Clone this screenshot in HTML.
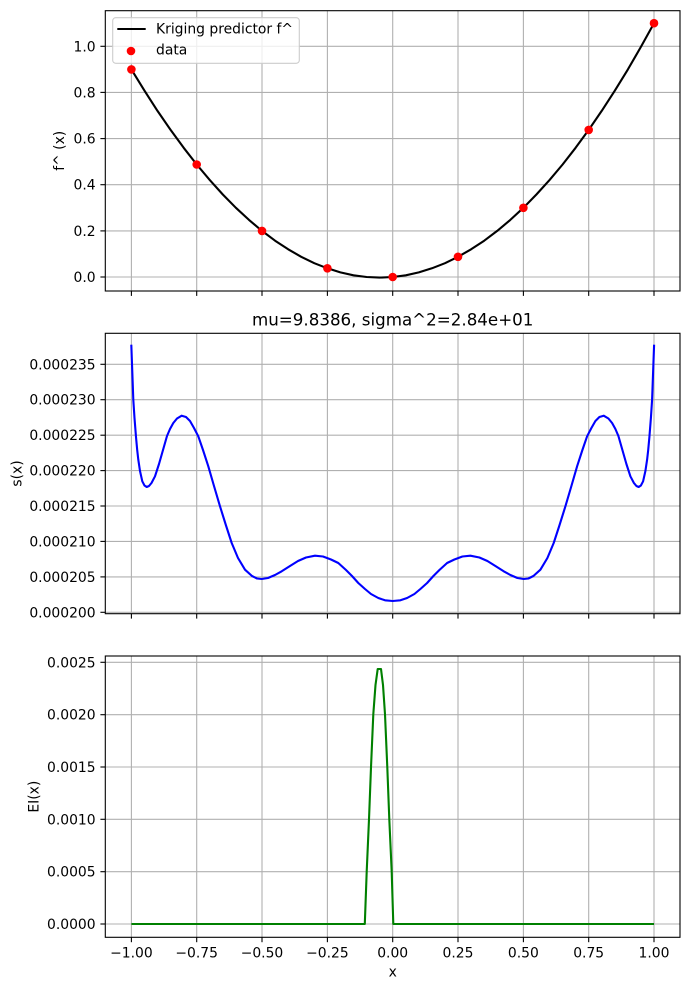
<!DOCTYPE html>
<html>
<head>
<meta charset="utf-8">
<style>
html,body{margin:0;padding:0;background:#fff;}
svg{display:block;}
text{font-family:"DejaVu Sans","Liberation Sans",sans-serif;fill:#000;}
</style>
</head>
<body>
<svg width="690" height="990" viewBox="0 0 690 990" xmlns="http://www.w3.org/2000/svg">
<rect width="690" height="990" fill="#fff"/>

<!-- ================= TOP AXES ================= -->
<g stroke="#b0b0b0" stroke-width="1.1" fill="none">
  <line x1="131.4" y1="10.7" x2="131.4" y2="291"/>
  <line x1="196.7" y1="10.7" x2="196.7" y2="291"/>
  <line x1="262.0" y1="10.7" x2="262.0" y2="291"/>
  <line x1="327.4" y1="10.7" x2="327.4" y2="291"/>
  <line x1="392.7" y1="10.7" x2="392.7" y2="291"/>
  <line x1="458.0" y1="10.7" x2="458.0" y2="291"/>
  <line x1="523.4" y1="10.7" x2="523.4" y2="291"/>
  <line x1="588.7" y1="10.7" x2="588.7" y2="291"/>
  <line x1="654.0" y1="10.7" x2="654.0" y2="291"/>
  <line x1="105.3" y1="277" x2="680" y2="277"/>
  <line x1="105.3" y1="230.9" x2="680" y2="230.9"/>
  <line x1="105.3" y1="184.7" x2="680" y2="184.7"/>
  <line x1="105.3" y1="138.6" x2="680" y2="138.6"/>
  <line x1="105.3" y1="92.4" x2="680" y2="92.4"/>
  <line x1="105.3" y1="46.3" x2="680" y2="46.3"/>
</g>
<polyline fill="none" stroke="#000" stroke-width="2.1" stroke-linejoin="round" points="131.4,69.4 144.5,90.7 157.5,110.9 170.6,129.9 183.7,147.8 196.7,164.5 209.8,180.1 222.8,194.5 235.9,207.8 249.0,219.9 262.0,230.9 275.1,240.7 288.2,249.3 301.2,256.8 314.3,263.2 327.4,268.3 340.4,272.4 353.5,275.3 366.6,277 379.6,277.6 392.7,277 405.8,275.3 418.8,272.4 431.9,268.3 445.0,263.2 458.0,256.8 471.1,249.3 484.2,240.7 497.2,230.9 510.3,219.9 523.4,207.8 536.4,194.5 549.5,180.1 562.6,164.5 575.6,147.8 588.7,129.9 601.7,110.9 614.8,90.7 627.9,69.4 640.9,46.9 654.0,23.2"/>
<g fill="#ff0000">
  <circle cx="131.4" cy="69.4" r="4.3"/>
  <circle cx="196.7" cy="164.5" r="4.3"/>
  <circle cx="262.0" cy="230.9" r="4.3"/>
  <circle cx="327.4" cy="268.3" r="4.3"/>
  <circle cx="392.7" cy="277" r="4.3"/>
  <circle cx="458.0" cy="256.8" r="4.3"/>
  <circle cx="523.4" cy="207.8" r="4.3"/>
  <circle cx="588.7" cy="129.9" r="4.3"/>
  <circle cx="654.0" cy="23.2" r="4.3"/>
</g>
<rect x="105.3" y="10.7" width="574.7" height="280.3" fill="none" stroke="#000" stroke-width="1.1"/>
<!-- ticks -->
<g stroke="#000" stroke-width="1.1">
  <line x1="100.4" y1="277" x2="105.3" y2="277"/>
  <line x1="100.4" y1="230.9" x2="105.3" y2="230.9"/>
  <line x1="100.4" y1="184.7" x2="105.3" y2="184.7"/>
  <line x1="100.4" y1="138.6" x2="105.3" y2="138.6"/>
  <line x1="100.4" y1="92.4" x2="105.3" y2="92.4"/>
  <line x1="100.4" y1="46.3" x2="105.3" y2="46.3"/>
  <line x1="131.4" y1="291" x2="131.4" y2="295.9"/>
  <line x1="196.7" y1="291" x2="196.7" y2="295.9"/>
  <line x1="262.0" y1="291" x2="262.0" y2="295.9"/>
  <line x1="327.4" y1="291" x2="327.4" y2="295.9"/>
  <line x1="392.7" y1="291" x2="392.7" y2="295.9"/>
  <line x1="458.0" y1="291" x2="458.0" y2="295.9"/>
  <line x1="523.4" y1="291" x2="523.4" y2="295.9"/>
  <line x1="588.7" y1="291" x2="588.7" y2="295.9"/>
  <line x1="654.0" y1="291" x2="654.0" y2="295.9"/>
</g>
<g font-size="13.9" text-anchor="end">
  <text x="95.6" y="282">0.0</text>
  <text x="95.6" y="235.9">0.2</text>
  <text x="95.6" y="189.7">0.4</text>
  <text x="95.6" y="143.6">0.6</text>
  <text x="95.6" y="97.4">0.8</text>
  <text x="95.6" y="51.3">1.0</text>
</g>
<text font-size="13.9" text-anchor="middle" transform="translate(64,150.8) rotate(-90)">f^ (x)</text>
<!-- legend -->
<rect x="112.7" y="17.7" width="186.6" height="45.6" rx="3" ry="3" fill="#fff" fill-opacity="0.8" stroke="#cccccc" stroke-width="1.1"/>
<line x1="117.3" y1="29" x2="145.7" y2="29" stroke="#000" stroke-width="2.1"/>
<text x="156" y="33.7" font-size="13.9">Kriging predictor f^</text>
<circle cx="131" cy="51" r="4.3" fill="#ff0000"/>
<text x="156" y="54.3" font-size="13.9">data</text>

<!-- ================= MIDDLE AXES ================= -->
<text x="392.7" y="325.7" font-size="16.7" text-anchor="middle">mu=9.8386, sigma^2=2.84e+01</text>
<g stroke="#b0b0b0" stroke-width="1.1" fill="none">
  <line x1="131.4" y1="333.3" x2="131.4" y2="613.7"/>
  <line x1="196.7" y1="333.3" x2="196.7" y2="613.7"/>
  <line x1="262.0" y1="333.3" x2="262.0" y2="613.7"/>
  <line x1="327.4" y1="333.3" x2="327.4" y2="613.7"/>
  <line x1="392.7" y1="333.3" x2="392.7" y2="613.7"/>
  <line x1="458.0" y1="333.3" x2="458.0" y2="613.7"/>
  <line x1="523.4" y1="333.3" x2="523.4" y2="613.7"/>
  <line x1="588.7" y1="333.3" x2="588.7" y2="613.7"/>
  <line x1="654.0" y1="333.3" x2="654.0" y2="613.7"/>
  <line x1="105.3" y1="612.3" x2="680" y2="612.3"/>
  <line x1="105.3" y1="576.9" x2="680" y2="576.9"/>
  <line x1="105.3" y1="541.4" x2="680" y2="541.4"/>
  <line x1="105.3" y1="506.0" x2="680" y2="506.0"/>
  <line x1="105.3" y1="470.6" x2="680" y2="470.6"/>
  <line x1="105.3" y1="435.2" x2="680" y2="435.2"/>
  <line x1="105.3" y1="399.7" x2="680" y2="399.7"/>
  <line x1="105.3" y1="364.3" x2="680" y2="364.3"/>
</g>
<polyline fill="none" stroke="#0000ff" stroke-width="2.1" stroke-linejoin="round" points="131.3,344.7 132.3,372 133.3,399.7 134.5,418 136,437 137.2,450 138.3,459.7 140,471 142.3,481.3 144.5,485.5 146.7,487 149,486 151.5,483 155,476.3 159,464 163,450 167,436 170,429 173.3,423 177,418.5 181.7,415.7 186,417 190,421 194,428 198.3,436.3 203,450 208.3,466.3 214,486 220,506.3 226,525.5 231.7,543 238,558 245,569.7 252,576 257,578.5 261.7,579 268,578 275,575 281.7,571.3 290,566 298,561 306,557.5 315,555.7 323,556.5 331,559.5 338.3,563 346,570 352,576 358.3,583 365,589 371,594 378.3,598 385,600.3 392.7,601 400.4,600.3 407.1,598 414.4,594 420.4,589 427.1,583 433.4,576 439.4,570 447.1,563 454.4,559.5 462.4,556.5 470.4,555.7 479.4,557.5 487.4,561 495.4,566 503.7,571.3 510.4,575 517.4,578 523.7,579 528.4,578.5 533.4,576 540.4,569.7 547.4,558 553.7,543 559.4,525.5 565.4,506.3 571.4,486 577.1,466.3 582.4,450 587.1,436.3 591.4,428 595.4,421 599.4,417 603.7,415.7 608.4,418.5 612.1,423 615.4,429 618.4,436 622.4,450 626.4,464 630.4,476.3 633.9,483 636.4,486 638.7,487 640.9,485.5 643.1,481.3 645.4,471 647.1,459.7 648.2,450 649.4,437 650.9,418 652.1,399.7 653.1,372 654.1,344.7"/>
<rect x="105.3" y="333.3" width="574.7" height="280.4" fill="none" stroke="#000" stroke-width="1.1"/>
<g stroke="#000" stroke-width="1.1">
  <line x1="100.4" y1="612.3" x2="105.3" y2="612.3"/>
  <line x1="100.4" y1="576.9" x2="105.3" y2="576.9"/>
  <line x1="100.4" y1="541.4" x2="105.3" y2="541.4"/>
  <line x1="100.4" y1="506.0" x2="105.3" y2="506.0"/>
  <line x1="100.4" y1="470.6" x2="105.3" y2="470.6"/>
  <line x1="100.4" y1="435.2" x2="105.3" y2="435.2"/>
  <line x1="100.4" y1="399.7" x2="105.3" y2="399.7"/>
  <line x1="100.4" y1="364.3" x2="105.3" y2="364.3"/>
  <line x1="131.4" y1="613.7" x2="131.4" y2="618.6"/>
  <line x1="196.7" y1="613.7" x2="196.7" y2="618.6"/>
  <line x1="262.0" y1="613.7" x2="262.0" y2="618.6"/>
  <line x1="327.4" y1="613.7" x2="327.4" y2="618.6"/>
  <line x1="392.7" y1="613.7" x2="392.7" y2="618.6"/>
  <line x1="458.0" y1="613.7" x2="458.0" y2="618.6"/>
  <line x1="523.4" y1="613.7" x2="523.4" y2="618.6"/>
  <line x1="588.7" y1="613.7" x2="588.7" y2="618.6"/>
  <line x1="654.0" y1="613.7" x2="654.0" y2="618.6"/>
</g>
<g font-size="13.9" text-anchor="end">
  <text x="95.6" y="617.3">0.000200</text>
  <text x="95.6" y="581.9">0.000205</text>
  <text x="95.6" y="546.4">0.000210</text>
  <text x="95.6" y="511.0">0.000215</text>
  <text x="95.6" y="475.6">0.000220</text>
  <text x="95.6" y="440.2">0.000225</text>
  <text x="95.6" y="404.7">0.000230</text>
  <text x="95.6" y="369.3">0.000235</text>
</g>
<text font-size="13.9" text-anchor="middle" transform="translate(21.5,473.5) rotate(-90)">s(x)</text>

<!-- ================= BOTTOM AXES ================= -->
<g stroke="#b0b0b0" stroke-width="1.1" fill="none">
  <line x1="131.4" y1="656" x2="131.4" y2="937.3"/>
  <line x1="196.7" y1="656" x2="196.7" y2="937.3"/>
  <line x1="262.0" y1="656" x2="262.0" y2="937.3"/>
  <line x1="327.4" y1="656" x2="327.4" y2="937.3"/>
  <line x1="392.7" y1="656" x2="392.7" y2="937.3"/>
  <line x1="458.0" y1="656" x2="458.0" y2="937.3"/>
  <line x1="523.4" y1="656" x2="523.4" y2="937.3"/>
  <line x1="588.7" y1="656" x2="588.7" y2="937.3"/>
  <line x1="654.0" y1="656" x2="654.0" y2="937.3"/>
  <line x1="105.3" y1="924" x2="680" y2="924"/>
  <line x1="105.3" y1="871.7" x2="680" y2="871.7"/>
  <line x1="105.3" y1="819.3" x2="680" y2="819.3"/>
  <line x1="105.3" y1="767.0" x2="680" y2="767.0"/>
  <line x1="105.3" y1="714.7" x2="680" y2="714.7"/>
  <line x1="105.3" y1="662.3" x2="680" y2="662.3"/>
</g>
<polyline fill="none" stroke="#008000" stroke-width="2.1" stroke-linejoin="round" points="131.4,924 364.8,924 366.7,871.7 369,819.3 371,767.3 373.3,714.3 375.5,685 377.7,669 381,669 383,685 385,714.3 387.3,767.3 389.3,819.3 391.7,871.7 393.3,924 654,924"/>
<rect x="105.3" y="656" width="574.7" height="281.3" fill="none" stroke="#000" stroke-width="1.1"/>
<g stroke="#000" stroke-width="1.1">
  <line x1="100.4" y1="924" x2="105.3" y2="924"/>
  <line x1="100.4" y1="871.7" x2="105.3" y2="871.7"/>
  <line x1="100.4" y1="819.3" x2="105.3" y2="819.3"/>
  <line x1="100.4" y1="767.0" x2="105.3" y2="767.0"/>
  <line x1="100.4" y1="714.7" x2="105.3" y2="714.7"/>
  <line x1="100.4" y1="662.3" x2="105.3" y2="662.3"/>
  <line x1="131.4" y1="937.3" x2="131.4" y2="942.2"/>
  <line x1="196.7" y1="937.3" x2="196.7" y2="942.2"/>
  <line x1="262.0" y1="937.3" x2="262.0" y2="942.2"/>
  <line x1="327.4" y1="937.3" x2="327.4" y2="942.2"/>
  <line x1="392.7" y1="937.3" x2="392.7" y2="942.2"/>
  <line x1="458.0" y1="937.3" x2="458.0" y2="942.2"/>
  <line x1="523.4" y1="937.3" x2="523.4" y2="942.2"/>
  <line x1="588.7" y1="937.3" x2="588.7" y2="942.2"/>
  <line x1="654.0" y1="937.3" x2="654.0" y2="942.2"/>
</g>
<g font-size="13.9" text-anchor="end">
  <text x="95.6" y="929">0.0000</text>
  <text x="95.6" y="876.7">0.0005</text>
  <text x="95.6" y="824.3">0.0010</text>
  <text x="95.6" y="772.0">0.0015</text>
  <text x="95.6" y="719.7">0.0020</text>
  <text x="95.6" y="667.3">0.0025</text>
</g>
<g font-size="13.9" text-anchor="middle">
  <text x="131.4" y="957.3">−1.00</text>
  <text x="196.7" y="957.3">−0.75</text>
  <text x="262.0" y="957.3">−0.50</text>
  <text x="327.4" y="957.3">−0.25</text>
  <text x="392.7" y="957.3">0.00</text>
  <text x="458.0" y="957.3">0.25</text>
  <text x="523.4" y="957.3">0.50</text>
  <text x="588.7" y="957.3">0.75</text>
  <text x="654.0" y="957.3">1.00</text>
  <text x="392.7" y="976.7">x</text>
</g>
<text font-size="13.9" text-anchor="middle" transform="translate(38.5,796.7) rotate(-90)">EI(x)</text>
</svg>
</body>
</html>
